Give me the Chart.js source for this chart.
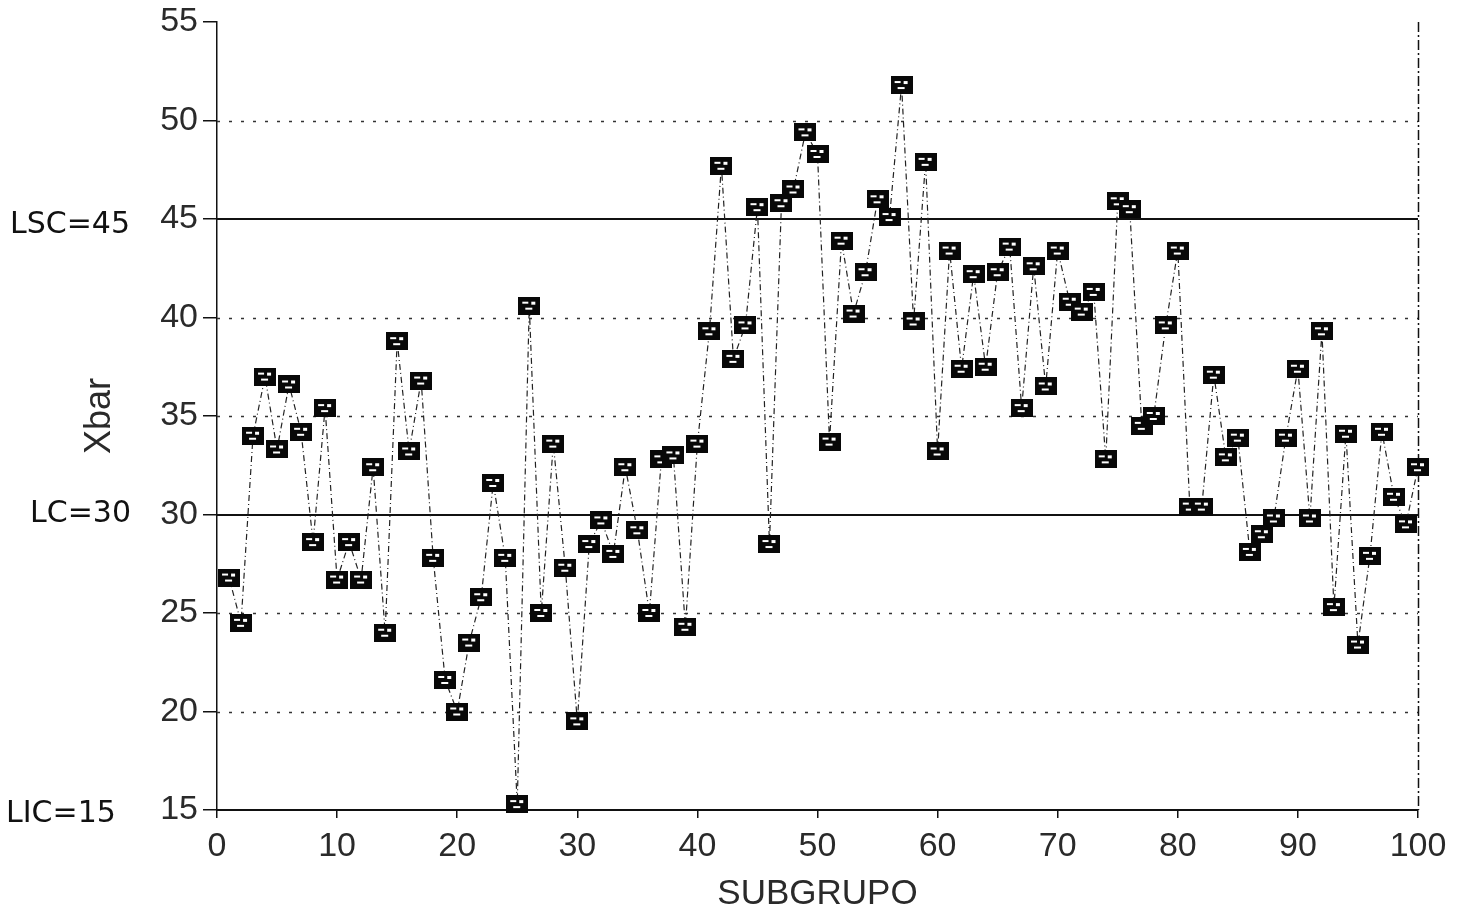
<!DOCTYPE html>
<html>
<head>
<meta charset="utf-8">
<script src="https://cdn.jsdelivr.net/npm/chart.js@4/dist/chart.umd.min.js"></script>
<style>
  html, body { margin: 0; padding: 0; background: #fff; }
  #wrap { width: 1472px; height: 919px; position: relative; }
</style>
</head>
<body>
<div id="wrap"><canvas id="chart"></canvas></div>
<script>
"use strict";

// ── Data ──────────────────────────────────────────────────────────
const SUBGROUP = [
   1,  2,  3,  4,  5,  6,  7,  8,  9, 10, 11, 12, 13, 14, 15, 16, 17, 18, 19, 20,
  21, 22, 23, 24, 25, 26, 27, 28, 29, 30, 31, 32, 33, 34, 35, 36, 37, 38, 39, 40,
  41, 42, 43, 44, 45, 46, 47, 48, 49, 50, 51, 52, 53, 54, 55, 56, 57, 58, 59, 60,
  61, 62, 63, 64, 65, 66, 67, 68, 69, 70, 71, 72, 73, 74, 75, 76, 77, 78, 79, 80,
  81, 82, 83, 84, 85, 86, 87, 88, 89, 90, 91, 92, 93, 94, 95, 96, 97, 98, 99, 100
];
const XBAR = [
  26.8, 24.5, 34.0, 37.0, 33.3, 36.6, 34.2, 28.6, 35.4, 26.7,
  28.6, 26.7, 32.4, 24.0, 38.8, 33.2, 36.8, 27.8, 21.6, 20.0,
  23.5, 25.8, 31.6, 27.8, 15.3, 40.6, 25.0, 33.6, 27.3, 19.5,
  28.5, 29.7, 28.0, 32.4, 29.2, 25.0, 32.8, 33.0, 24.3, 33.6,
  39.3, 47.7, 37.9, 39.6, 45.6, 28.5, 45.8, 46.5, 49.4, 48.3,
  33.7, 43.9, 40.2, 42.3, 46.0, 45.1, 51.8, 39.8, 47.9, 33.2,
  43.4, 37.4, 42.2, 37.5, 42.3, 43.6, 35.4, 42.6, 36.5, 43.4,
  40.8, 40.3, 41.3, 32.8, 45.9, 45.5, 34.5, 35.0, 39.6, 43.4,
  30.4, 30.4, 37.1, 32.9, 33.9, 28.1, 29.0, 29.8, 33.9, 37.4,
  29.8, 39.3, 25.3, 34.1, 23.4, 27.9, 34.2, 30.9, 29.5, 32.4
];
const Y_TICKS   = [15, 20, 25, 30, 35, 40, 45, 50, 55];
const X_TICKS   = [0, 10, 20, 30, 40, 50, 60, 70, 80, 90, 100];
const DOTTED    = [20, 25, 35, 40, 50];
const LIMITS    = [15, 30, 45];
const LIMIT_TXT = ["LIC=15", "LC=30", "LSC=45"];

const INK  = "#111";
const GREY = "#2a2a2a";
const FONT = "'Liberation Sans', Arial, sans-serif";

// ── Marker: small black box with white specks ────────────────────
function makeMarker() {
  const c = document.createElement("canvas");
  c.width = 22; c.height = 18;
  const g = c.getContext("2d");
  g.fillStyle = "#080808";
  g.fillRect(0, 0, 22, 18);
  g.fillStyle = "#fff";
  g.fillRect(4, 5, 6, 2);
  g.fillRect(13, 5, 4, 3);
  g.fillRect(7, 11, 7, 2);
  return c;
}
const MARKER = makeMarker();

// ── Plugin: grid / limit lines, right border, titles, labels ──────
const controlLines = {
  id: "controlLines",
  beforeDatasetsDraw(chart) {
    const { ctx, chartArea: a, scales: { x, y } } = chart;
    ctx.save();
    // dotted grid
    ctx.strokeStyle = "#333";
    ctx.lineWidth = 1.3;
    ctx.setLineDash([3, 9]);
    DOTTED.forEach(v => {
      const py = Math.round(y.getPixelForValue(v)) + 0.5;
      ctx.beginPath(); ctx.moveTo(a.left, py); ctx.lineTo(a.right, py); ctx.stroke();
    });
    // control limits
    ctx.setLineDash([]);
    ctx.strokeStyle = INK;
    ctx.lineWidth = 2;
    LIMITS.forEach(v => {
      const py = Math.round(y.getPixelForValue(v));
      ctx.beginPath(); ctx.moveTo(a.left, py); ctx.lineTo(a.right, py); ctx.stroke();
    });
    // right border (dash-dot)
    ctx.lineWidth = 1.5;
    ctx.setLineDash([10, 3, 2, 3]);
    const rx = Math.round(x.getPixelForValue(100)) + 0.5;
    ctx.beginPath(); ctx.moveTo(rx, a.top); ctx.lineTo(rx, a.bottom); ctx.stroke();
    ctx.restore();
  },
  afterDraw(chart) {
    const { ctx, chartArea: a, scales: { y } } = chart;
    ctx.save();
    // y title
    ctx.fillStyle = GREY;
    ctx.font = "36px " + FONT;
    ctx.textAlign = "center";
    ctx.textBaseline = "middle";
    ctx.translate(100, (a.top + a.bottom) / 2);
    ctx.rotate(-Math.PI / 2);
    ctx.fillText("Xbar", 0, 0);
    ctx.restore();

    // handwritten control-limit labels
    ctx.save();
    ctx.fillStyle = INK;
    ctx.font = "30px 'DejaVu Sans', sans-serif";
    ctx.textBaseline = "middle";
    ctx.textAlign = "left";
    const xs = [6, 30, 10];
    const dy = [4, 0, 6];
    LIMITS.forEach((v, i) => {
      ctx.fillText(LIMIT_TXT[i], xs[i], y.getPixelForValue(v) + dy[i]);
    });
    ctx.restore();
  }
};

// ── Chart ─────────────────────────────────────────────────────────
new Chart(document.getElementById("chart"), {
  type: "line",
  data: {
    datasets: [{
      data: SUBGROUP.map((s, i) => ({ x: s, y: XBAR[i] })),
      borderColor: "#222",
      borderWidth: 1.2,
      borderDash: [6, 3, 1, 3],
      tension: 0,
      pointStyle: MARKER,
      pointRadius: 9,
      fill: false,
      clip: false
    }]
  },
  options: {
    responsive: true,
    maintainAspectRatio: false,
    animation: false,
    devicePixelRatio: 1,
    layout: { padding: { top: 22, right: 54, left: 0, bottom: 0 } },
    plugins: { legend: { display: false }, tooltip: { enabled: false } },
    scales: {
      x: {
        type: "linear", min: 0, max: 100,
        afterBuildTicks: s => { s.ticks = X_TICKS.map(v => ({ value: v })); },
        afterFit: s => { s.height = 109; },
        ticks: { color: GREY, font: { family: FONT, size: 34 }, padding: 8 },
        grid: { drawOnChartArea: false, color: INK, tickLength: 8, lineWidth: 1.5 },
        border: { color: INK, width: 2 },
        title: { display: true, text: "SUBGRUPO", color: GREY,
                 font: { family: FONT, size: 35 }, padding: { top: 7 } }
      },
      y: {
        min: 15, max: 55,
        afterBuildTicks: s => { s.ticks = Y_TICKS.map(v => ({ value: v })); },
        afterFit: s => { s.width = 217; },
        ticks: { color: GREY, font: { family: FONT, size: 34, lineHeight: 1 }, padding: 5 },
        grid: { drawOnChartArea: false, color: INK, tickLength: 14, lineWidth: 1.5 },
        border: { color: INK, width: 1.5, dash: [10, 3, 2, 3] }
      }
    }
  },
  plugins: [controlLines]
});
</script>
</body>
</html>
